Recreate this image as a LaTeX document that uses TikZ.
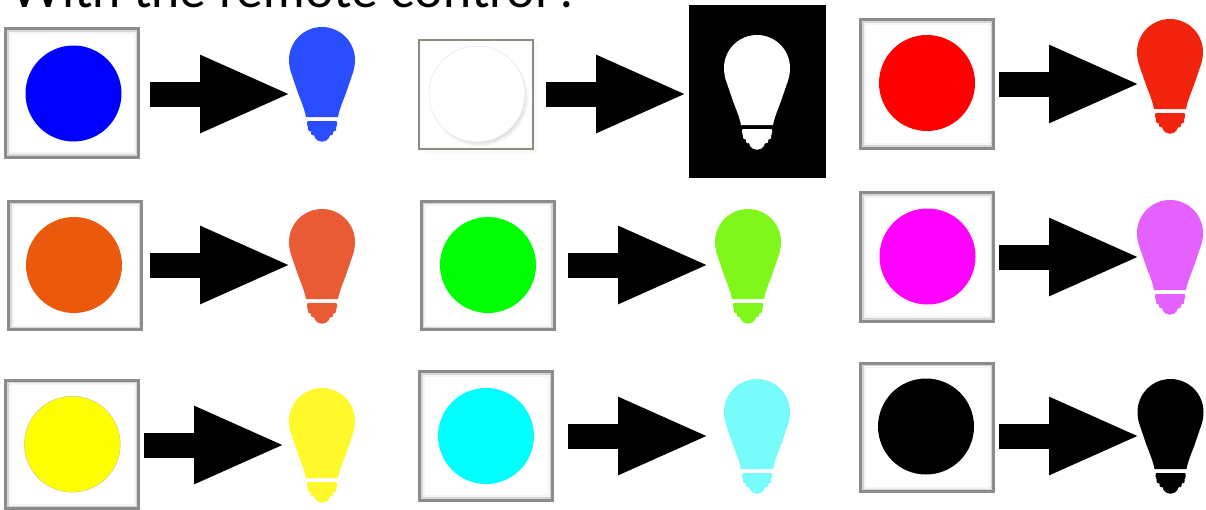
\documentclass[tikz,border=0pt]{standalone}
\usepackage{fontspec}
\setmainfont{Lato}
\usetikzlibrary{arrows.meta,shadows}
\definecolor{bulbblue}{HTML}{2A4EFF}
\definecolor{bulbred}{HTML}{F2240E}
\definecolor{bulborange}{HTML}{E95B35}
\definecolor{bulbgreen}{HTML}{7FF71A}
\definecolor{bulbpink}{HTML}{E561FF}
\definecolor{bulbyellow}{HTML}{FFF82A}
\definecolor{bulbcyan}{HTML}{77FBFB}
\definecolor{dotorange}{HTML}{EB5A0C}
\definecolor{dotblue}{HTML}{0000FF}
\definecolor{dotred}{HTML}{FF0000}
\definecolor{dotgreen}{HTML}{00FF00}
\definecolor{dotpink}{HTML}{FF00FF}
\definecolor{dotyellow}{HTML}{FFFF00}
\definecolor{dotcyan}{HTML}{00FFFF}
\definecolor{boxgray}{HTML}{8C8C8C}
\definecolor{boxtan}{HTML}{8F8A7E}
\tikzset{
  btnbox/.style={rectangle,draw=boxgray,line width=3pt,fill=white,inner sep=0,outer sep=0,
    minimum width=133pt,minimum height=128.5pt,
    path picture={
      \draw[black!4,line width=10pt] (path picture bounding box.south west) rectangle (path picture bounding box.north east);
      \draw[black!16,line width=6pt] (path picture bounding box.south west) rectangle (path picture bounding box.north east);}},
  dot/.style={circle,inner sep=0,outer sep=0,minimum size=96pt,fill=#1},
  bulbspot/.style={rectangle,inner sep=0,outer sep=0,minimum width=66pt,minimum height=114pt},
  fatarrow/.style={line width=25pt,shorten >=-3pt,-{Triangle[length=92pt,width=71pt]}},
  bulb/.pic={
    \fill[pic actions] (-16,33) .. controls (-17.5,25) and (-21,17) .. (-24,9) -- (-30.5,-10)
      .. controls (-32,-14) and (-33,-19) .. (-33,-24)
      arc[start angle=180,end angle=360,radius=33]
      .. controls (33,-19) and (32,-14) .. (30.5,-10) -- (24,9)
      .. controls (21,17) and (17.5,25) .. (16,33) -- cycle;
    \fill[pic actions,rounded corners=1pt] (-15,37) -- (15,37) -- (15,42) -- (14,42) -- (14,47) -- (11,47) -- (11,51) -- (7.5,51)
      -- (7.5,53) .. controls (6,56) and (3,57.5) .. (0,57.5) .. controls (-3,57.5) and (-6,56) .. (-7.5,53)
      -- (-7.5,51) -- (-11,51) -- (-11,47) -- (-14,47) -- (-14,42) -- (-15,42) -- cycle;
  }
}
\begin{document}
\begin{tikzpicture}[x=1pt,y=-1pt]
  \useasboundingbox (0,0) rectangle (1206,509);
  \node[anchor=base west,inner sep=0,font=\fontsize{50.5}{60}\selectfont] (title) at (10,7) {With the remote control :};

  % blue
  \node[btnbox] (btn1) at (72,93) {};
  \node[dot=dotblue] (dot1) at (73.5,93.5) {};
  \node[bulbspot] (bulb1) at (322,84) {};
  \pic[bulbblue] at (bulb1) {bulb};
  \coordinate (tail1) at (150,94);
  \coordinate (tip1) at (289,94);
  \draw[fatarrow] (tail1) -- (tip1);

  % white, on a black card
  \node[rectangle,fill=black,inner sep=0,outer sep=0,minimum width=137pt,minimum height=173pt] (card) at (757.5,91.5) {};
  \node[btnbox,draw=boxtan,line width=2pt,minimum width=114pt,minimum height=109pt,path picture={},
    drop shadow={shadow xshift=5pt,shadow yshift=-5pt,opacity=.05}] (btn2) at (476,94.5) {};
  \node[dot=white,draw=black!10,line width=.5pt,circular drop shadow={shadow xshift=2pt,shadow yshift=-3pt,shadow scale=1.03,opacity=.35}] (dot2) at (477,94) {};
  \node[bulbspot] (bulb2) at (757,92) {};
  \pic[white] at (bulb2) {bulb};
  \coordinate (tail2) at (546,94);
  \coordinate (tip2) at (685,94);
  \draw[fatarrow] (tail2) -- (tip2);

  % red
  \node[btnbox] (btn3) at (927,84) {};
  \node[dot=dotred] (dot3) at (927,83) {};
  \node[bulbspot] (bulb3) at (1170,76) {};
  \pic[bulbred] at (bulb3) {bulb};
  \coordinate (tail3) at (999,84);
  \coordinate (tip3) at (1138,84);
  \draw[fatarrow] (tail3) -- (tip3);

  % orange
  \node[btnbox] (btn4) at (75,265.5) {};
  \node[dot=dotorange] (dot4) at (74,265) {};
  \node[bulbspot] (bulb4) at (322,266) {};
  \pic[bulborange] at (bulb4) {bulb};
  \coordinate (tail4) at (150,265);
  \coordinate (tip4) at (289,265);
  \draw[fatarrow] (tail4) -- (tip4);

  % green
  \node[btnbox] (btn5) at (487.5,265.5) {};
  \node[dot=dotgreen] (dot5) at (488,265) {};
  \node[bulbspot] (bulb5) at (748,266) {};
  \pic[bulbgreen] at (bulb5) {bulb};
  \coordinate (tail5) at (568,265);
  \coordinate (tip5) at (707,265);
  \draw[fatarrow] (tail5) -- (tip5);

  % magenta
  \node[btnbox] (btn6) at (927,257) {};
  \node[dot=dotpink] (dot6) at (927.5,256.5) {};
  \node[bulbspot] (bulb6) at (1170,257) {};
  \pic[bulbpink] at (bulb6) {bulb};
  \coordinate (tail6) at (999,257);
  \coordinate (tip6) at (1138,257);
  \draw[fatarrow] (tail6) -- (tip6);

  % yellow
  \node[btnbox] (btn7) at (72,444.5) {};
  \node[dot=dotyellow,draw=black!30,line width=.3pt] (dot7) at (72.3,444.2) {};
  \node[bulbspot] (bulb7) at (322,445) {};
  \pic[bulbyellow] at (bulb7) {bulb};
  \coordinate (tail7) at (144,445);
  \coordinate (tip7) at (283,445);
  \draw[fatarrow] (tail7) -- (tip7);

  % cyan
  \node[btnbox] (btn8) at (486,436) {};
  \node[dot=dotcyan] (dot8) at (486,436) {};
  \node[bulbspot] (bulb8) at (757,436) {};
  \pic[bulbcyan] at (bulb8) {bulb};
  \coordinate (tail8) at (568,436);
  \coordinate (tip8) at (707,436);
  \draw[fatarrow] (tail8) -- (tip8);

  % black
  \node[btnbox] (btn9) at (927,427.5) {};
  \node[dot=black] (dot9) at (926,426.5) {};
  \node[bulbspot] (bulb9) at (1170.5,436) {};
  \pic[black] at (bulb9) {bulb};
  \coordinate (tail9) at (999,436);
  \coordinate (tip9) at (1138,436);
  \draw[fatarrow] (tail9) -- (tip9);
\end{tikzpicture}
\end{document}
